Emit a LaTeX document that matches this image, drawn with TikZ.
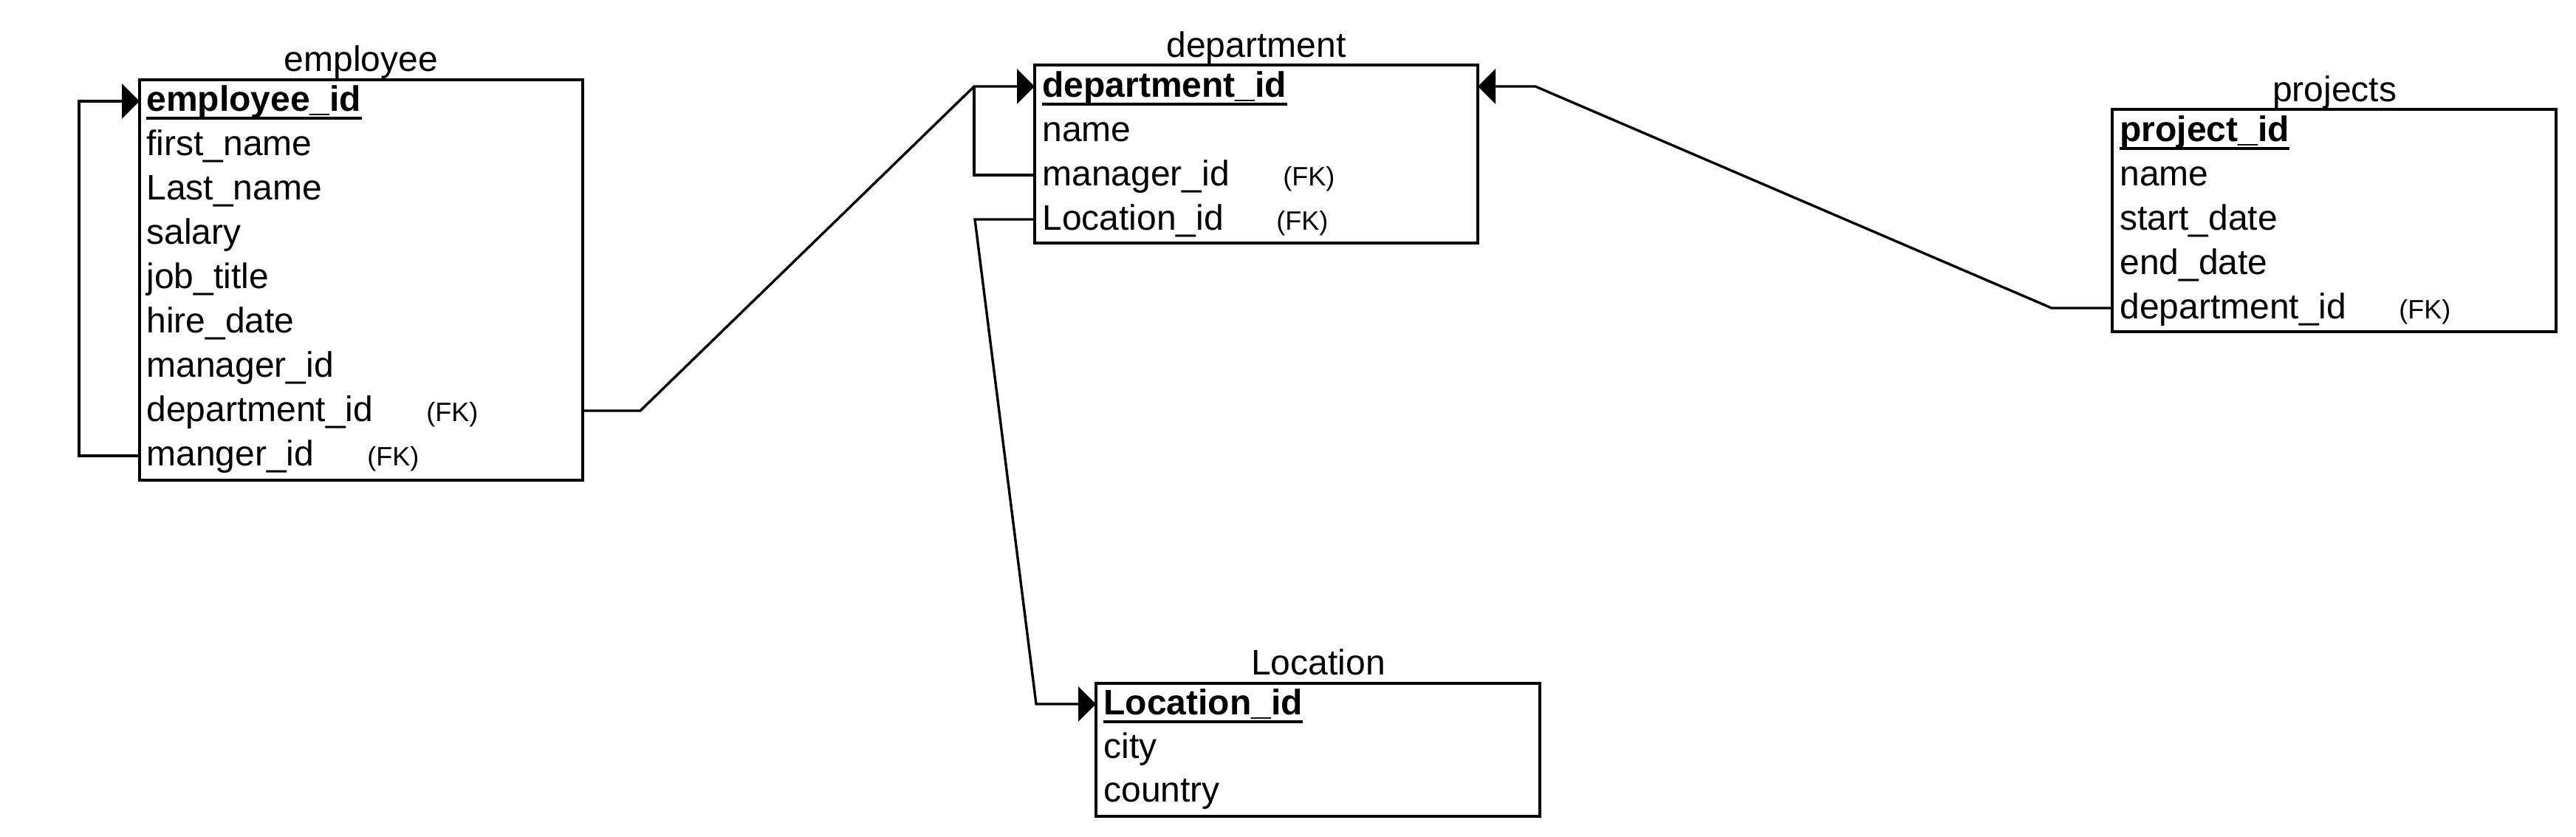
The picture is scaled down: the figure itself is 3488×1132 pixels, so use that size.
\documentclass[tikz,border=0pt]{standalone}
\usepackage{fontspec}
\setmainfont{Liberation Sans}
\usetikzlibrary{arrows.meta,calc}
\begin{document}
\begin{tikzpicture}[x=0.5pt,y=-0.5pt,
  tbl/.style={draw, line width=2.25pt, rectangle, inner sep=0pt, outer sep=0pt, anchor=north west},
  fld/.style={anchor=base west, inner sep=0pt, font=\fontsize{24pt}{28pt}\selectfont},
  keyfld/.style={anchor=base west, inner sep=0pt, font=\fontsize{24pt}{28pt}\selectfont\bfseries},
  fk/.style={anchor=base west, inner sep=0pt, font=\fontsize{18pt}{20pt}\selectfont},
  ttl/.style={anchor=base, inner sep=0pt, font=\fontsize{24pt}{28pt}\selectfont},
  conn/.style={line width=1.7pt, line join=miter},
  tipconn/.style={conn, -{Triangle[length=12pt,width=23.5pt]}},
  uline/.style={line width=2pt},
]
\useasboundingbox (0,0) rectangle (3488,1132);

% ---------- employee ----------
\node[tbl, minimum width=300pt, minimum height=271pt] (emp) at (189,108) {};
\node[ttl] (empT) at (489,96) {employee};
\node[keyfld] (e1) at (198,150) {employee\_id};
\node[fld] (e2) at (198,210) {first\_name};
\node[fld] (e3) at (198,270) {Last\_name};
\node[fld] (e4) at (198,330) {salary};
\node[fld] (e5) at (198,390) {job\_title};
\node[fld] (e6) at (198,450) {hire\_date};
\node[fld] (e7) at (198,510) {manager\_id};
\node[fld] (e8) at (198,570) {department\_id};
\node[fld] (e9) at (198,630) {manger\_id};
\node[fk] (e8fk) at (577,570) {(FK)};
\node[fk] (e9fk) at (497,630) {(FK)};
\draw[uline] ($(e1.base west)+(0,9.5)$) -- ($(e1.base east)+(0,9.5)$);

% ---------- department ----------
\node[tbl, minimum width=300pt, minimum height=120.5pt] (dep) at (1401,88) {};
\node[ttl] (depT) at (1701,77) {department};
\node[keyfld] (d1) at (1411,131) {department\_id};
\node[fld] (d2) at (1411,191) {name};
\node[fld] (d3) at (1411,251) {manager\_id};
\node[fld] (d4) at (1411,311) {Location\_id};
\node[fk] (d3fk) at (1737,251) {(FK)};
\node[fk] (d4fk) at (1728,311) {(FK)};
\draw[uline] ($(d1.base west)+(0,9.5)$) -- ($(d1.base east)+(0,9.5)$);

% ---------- projects ----------
\node[tbl, minimum width=300.5pt, minimum height=150.5pt] (prj) at (2860,148) {};
\node[ttl] (prjT) at (3161,137) {projects};
\node[keyfld] (p1) at (2870,191) {project\_id};
\node[fld] (p2) at (2870,251) {name};
\node[fld] (p3) at (2870,311) {start\_date};
\node[fld] (p4) at (2870,371) {end\_date};
\node[fld] (p5) at (2870,431) {department\_id};
\node[fk] (p5fk) at (3248,431) {(FK)};
\draw[uline] ($(p1.base west)+(0,9.5)$) -- ($(p1.base east)+(0,9.5)$);

% ---------- Location ----------
\node[tbl, minimum width=300.5pt, minimum height=90pt] (loc) at (1484,925) {};
\node[ttl] (locT) at (1785,913) {Location};
\node[keyfld] (l1) at (1494,967) {Location\_id};
\node[fld] (l2) at (1494,1026) {city};
\node[fld] (l3) at (1494,1085) {country};
\draw[uline] ($(l1.base west)+(0,9.5)$) -- ($(l1.base east)+(0,9.5)$);

% ---------- bend points ----------
\coordinate (eLoop) at (107,0);
\coordinate (bendA) at (867,0);
\coordinate (jA) at (1319,0);
\coordinate (jL) at (1320,0);
\coordinate (bendL) at (1403,0);
\coordinate (bendP) at (2778,0);
\coordinate (bendQ) at (2079,0);

% ---------- connectors ----------
% employee self reference
\draw[tipconn] ($(emp.west|-e9.base)+(0,-13)$) -- ($(eLoop|-e9.base)+(0,-13)$)
  -- ($(eLoop|-e1.base)+(0,-13)$) -- ($(emp.west|-e1.base)+(0,-13)$);
% employee -> department
\draw[tipconn] ($(emp.east|-e8.base)+(0,-14)$) -- ($(bendA|-e8.base)+(0,-14)$)
  -- ($(jA|-d1.base)+(0,-14)$) -- ($(dep.west|-d1.base)+(0,-14)$);
% department manager -> department id
\draw[conn] ($(dep.west|-d3.base)+(0,-14)$) -- ($(jA|-d3.base)+(0,-14)$) -- ($(jA|-d1.base)+(0,-14)$);
% department -> Location
\draw[tipconn] ($(dep.west|-d4.base)+(0,-14)$) -- ($(jL|-d4.base)+(0,-14)$)
  -- ($(bendL|-l1.base)+(0,-14)$) -- ($(loc.west|-l1.base)+(0,-14)$);
% projects -> department
\draw[tipconn] ($(prj.west|-p5.base)+(0,-14)$) -- ($(bendP|-p5.base)+(0,-14)$)
  -- ($(bendQ|-d1.base)+(0,-14)$) -- ($(dep.east|-d1.base)+(0,-14)$);
\end{tikzpicture}
\end{document}
